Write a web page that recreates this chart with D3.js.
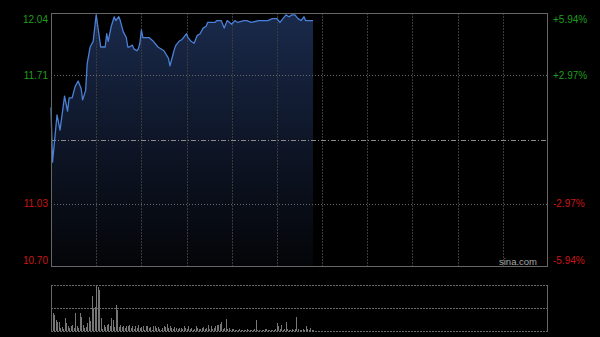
<!DOCTYPE html>
<html lang="en">

<head>
    <meta charset="UTF-8">
    <title>Intraday</title>
    <style>
        body { margin: 0; background: #000; }
        svg { display: block; }
    </style>
</head>

<body>
    <script src="https://d3js.org/d3.v7.min.js"></script>
    <script>
        // minute offsets from 9:30 (lunch break removed, 330 min session) and prices
        var minutes = [0, 1, 4, 6, 9, 11, 12, 14, 16, 18,
            20, 21, 23, 24, 26, 28, 30, 33, 36, 37,
            38, 40, 42, 43, 45, 46, 48, 50, 51, 52,
            54, 55, 57, 58, 59, 60, 61, 65, 68, 71,
            75, 78, 79, 81, 82, 83, 85, 87, 89, 90,
            91, 93, 95, 97, 99, 101, 103, 104, 109, 110,
            113, 115, 116, 117, 120, 122, 124, 128, 130, 133,
            138, 139, 144, 147, 150, 152, 154, 156, 158, 160,
            162, 164, 166, 168, 169, 171, 174];
        var prices = [11.54, 11.25, 11.50, 11.42, 11.60, 11.52, 11.59, 11.59, 11.65, 11.68,
            11.64, 11.58, 11.63, 11.77, 11.86, 11.89, 12.03, 11.86, 11.86, 11.93,
            11.89, 11.97, 12.02, 12.00, 12.02, 12.00, 11.94, 11.91, 11.86, 11.86,
            11.87, 11.85, 11.84, 11.85, 11.88, 11.95, 11.91, 11.91, 11.89, 11.86,
            11.84, 11.80, 11.76, 11.82, 11.85, 11.87, 11.89, 11.90, 11.92, 11.93,
            11.91, 11.89, 11.88, 11.92, 11.93, 11.96, 11.97, 11.99, 11.99, 12.00,
            12.00, 11.96, 11.98, 12.00, 11.98, 12.00, 11.99, 12.00, 12.00, 11.99,
            12.00, 12.00, 12.00, 12.01, 12.01, 11.99, 12.01, 12.03, 12.02, 12.03,
            12.03, 12.01, 12.00, 12.02, 12.00, 12.00, 12.00];

        // volume per minute, from minute 0
        var volumes = [200, 180, 160, 110, 90, 90, 30, 40, 20, 130,
            80, 50, 30, 50, 60, 30, 180, 50, 30, 180,
            140, 60, 30, 40, 80, 140, 100, 350, 230, 240,
            450, 440, 410, 130, 20, 60, 40, 60, 70, 50,
            130, 110, 40, 260, 210, 40, 60, 40, 50, 30,
            50, 50, 60, 30, 50, 20, 50, 30, 60, 30,
            40, 50, 10, 50, 50, 30, 40, 10, 50, 50,
            30, 40, 20, 10, 30, 50, 40, 70, 30, 50,
            30, 20, 40, 30, 20, 30, 30, 20, 50, 30,
            20, 50, 20, 30, 10, 20, 50, 30, 20, 20,
            30, 40, 20, 30, 60, 20, 50, 20, 30, 50,
            60, 60, 70, 90, 20, 30, 120, 20, 30, 10,
            20, 20, 10, 10, 10, 20, 10, 10, 10, 10,
            20, 10, 10, 10, 10, 20, 110, 10, 10, 5,
            10, 10, 20, 20, 10, 10, 10, 10, 10, 20,
            80, 50, 20, 60, 10, 20, 90, 20, 10, 10,
            20, 10, 20, 140, 20, 10, 10, 20, 10, 50,
            20, 10, 30, 10, 10];

        var prevClose = 11.37;
        var priceTicks = [12.04, 11.71, 11.03, 10.70];
        var pctTicks = ["+5.94%", "+2.97%", "-2.97%", "-5.94%"];
        var gridMinutes = [30, 60, 90, 120, 150, 180, 210, 240, 270, 300];
        var volMax = 460;

        var W = 600, H = 337;
        var pLeft = 51, pRight = 548, pTop = 13, pBottom = 266;
        var vTop = 285, vBottom = 331;
        var font = "Arial, 'Liberation Sans', sans-serif";

        var svg = d3.select('body').append('svg').attr('width', W).attr('height', H)
            .style('background', '#000');

        var x = d3.scaleLinear().domain([0, 330]).range([pLeft, pRight]);
        var y = d3.scaleLinear().domain([10.70, 12.04]).range([pBottom, pTop]);
        var yv = d3.scaleLinear().domain([0, volMax]).range([vBottom, vTop]);

        var pts = minutes.map(function (m, i) { return [m, prices[i]]; });

        // gradient under the price line
        var grad = svg.append('defs').append('linearGradient')
            .attr('id', 'fill').attr('gradientUnits', 'userSpaceOnUse')
            .attr('x1', 0).attr('y1', pTop).attr('x2', 0).attr('y2', pBottom);
        grad.append('stop').attr('offset', 0).attr('stop-color', '#1a2a4b');
        grad.append('stop').attr('offset', 0.5).attr('stop-color', '#0e1628');
        grad.append('stop').attr('offset', 1).attr('stop-color', '#040508');

        var area = d3.area()
            .x(function (d) { return x(d[0]); })
            .y0(pBottom)
            .y1(function (d) { return y(d[1]); });
        svg.append('path').datum(pts).attr('d', area).attr('fill', 'url(#fill)');

        // vertical grid
        svg.selectAll('line.vgrid')
            .data(gridMinutes)
            .enter()
            .append('line')
            .attr('class', 'vgrid')
            .attr('x1', function (d) { return Math.round(x(d)) + 0.5; })
            .attr('x2', function (d) { return Math.round(x(d)) + 0.5; })
            .attr('y1', pTop).attr('y2', pBottom)
            .attr('stroke', '#3a3a3a')
            .attr('stroke-dasharray', '2,1');

        // horizontal grid
        svg.selectAll('line.hgrid')
            .data([11.71, 11.03])
            .enter()
            .append('line')
            .attr('class', 'hgrid')
            .attr('x1', pLeft).attr('x2', pRight)
            .attr('y1', function (d) { return Math.round(y(d)) + 0.5; })
            .attr('y2', function (d) { return Math.round(y(d)) + 0.5; })
            .attr('stroke', '#6a6a6a')
            .attr('stroke-dasharray', '1,2');

        // previous close line
        svg.append('line')
            .attr('x1', pLeft).attr('x2', pRight)
            .attr('y1', Math.round(y(prevClose)) + 0.5).attr('y2', Math.round(y(prevClose)) + 0.5)
            .attr('stroke', '#8c8c8c')
            .attr('stroke-dasharray', '5,2,1,2');

        // price line
        var line = d3.line()
            .x(function (d) { return x(d[0]); })
            .y(function (d) { return y(d[1]); });
        svg.append('path').datum(pts).attr('d', line)
            .attr('fill', 'none')
            .attr('stroke', '#4a80d6')
            .attr('stroke-width', 1.3)
            .attr('stroke-linejoin', 'round');

        // frame
        svg.append('rect')
            .attr('x', pLeft + 0.5).attr('y', pTop + 0.5)
            .attr('width', pRight - pLeft - 1).attr('height', pBottom - pTop)
            .attr('fill', 'none').attr('stroke', '#666');

        // y labels
        function labelY(d, i) {
            if (i === 0) return y(d) + 10;
            if (i === priceTicks.length - 1) return y(d) - 2;
            return y(d) + 3.6;
        }
        function labelColor(d, i) { return i < 2 ? '#1e9e1e' : '#cc1414'; }

        svg.selectAll('text.price')
            .data(priceTicks)
            .enter()
            .append('text')
            .attr('class', 'price')
            .text(function (d) { return d.toFixed(2); })
            .attr('x', 48)
            .attr('y', labelY)
            .attr('text-anchor', 'end')
            .attr('font-family', font)
            .attr('font-size', 10)
            .attr('fill', labelColor);

        svg.selectAll('text.pct')
            .data(priceTicks)
            .enter()
            .append('text')
            .attr('class', 'pct')
            .text(function (d, i) { return pctTicks[i]; })
            .attr('x', 553)
            .attr('y', labelY)
            .attr('font-family', font)
            .attr('font-size', 10)
            .attr('fill', labelColor);

        svg.append('text')
            .text('sina.com')
            .attr('x', 537).attr('y', 264.5)
            .attr('text-anchor', 'end')
            .attr('font-family', font)
            .attr('font-size', 9.5)
            .attr('fill', '#a8a8a8');

        // volume panel
        svg.selectAll('line.vbar')
            .data(volumes)
            .enter()
            .append('line')
            .attr('class', 'vbar')
            .attr('x1', function (d, i) { return Math.round(x(i)) + 0.5; })
            .attr('x2', function (d, i) { return Math.round(x(i)) + 0.5; })
            .attr('y1', vBottom)
            .attr('y2', function (d) { return yv(d); })
            .attr('stroke', '#767676');

        svg.selectAll('line.vgridh')
            .data([vTop, (vTop + vBottom) / 2, vBottom])
            .enter()
            .append('line')
            .attr('class', 'vgridh')
            .attr('x1', pLeft).attr('x2', pRight)
            .attr('y1', function (d) { return Math.round(d) + 0.5; })
            .attr('y2', function (d) { return Math.round(d) + 0.5; })
            .attr('stroke', '#6a6a6a')
            .attr('stroke-dasharray', '2,1');

        svg.selectAll('line.vside')
            .data([pLeft + 0.5, pRight - 0.5])
            .enter()
            .append('line')
            .attr('class', 'vside')
            .attr('x1', function (d) { return d; }).attr('x2', function (d) { return d; })
            .attr('y1', vTop).attr('y2', vBottom + 1)
            .attr('stroke', '#666');
    </script>
</body>

</html>
